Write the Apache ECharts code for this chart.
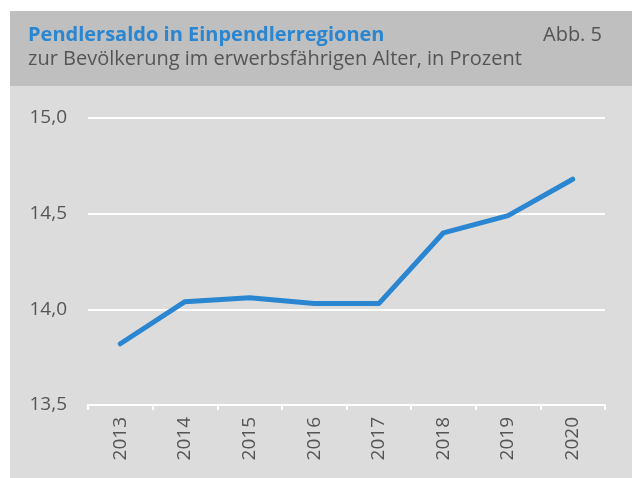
<!DOCTYPE html>
<html>
<head>
<meta charset="utf-8">
<script src="https://cdn.jsdelivr.net/npm/echarts@6/dist/echarts.min.js"></script>
<style>
html,body{margin:0;padding:0;background:#fff;}
#c{width:632px;height:478px;}
</style>
</head>
<body>
<div id="c"></div>
<script>
const years = ['2013','2014','2015','2016','2017','2018','2019','2020'];
const pendlersaldo = [13.82, 14.04, 14.06, 14.03, 14.03, 14.40, 14.49, 14.68];
const yTicks = { min: 13.5, max: 15.0, step: 0.5 };
const titleText = 'Pendlersaldo in Einpendlerregionen';
const subtitleText = 'zur Bevölkerung im erwerbsfährigen Alter, in Prozent';
const figText = 'Abb. 5';

const FONT = '"Open Sans", "Noto Sans", sans-serif';
const chart = echarts.init(document.getElementById('c'), null, {renderer: 'canvas'});
chart.setOption({
  backgroundColor: '#ffffff',
  animation: false,
  graphic: [
    {type: 'rect', shape: {x: 10, y: 11, width: 622, height: 75}, style: {fill: '#bfbfbf'}, z: -10},
    {type: 'rect', shape: {x: 10, y: 86, width: 622, height: 392}, style: {fill: '#dcdcdc'}, z: -10}
  ],
  title: [
    {text: titleText, left: 28, top: 25, padding: 0, textStyle: {fontFamily: FONT, fontSize: 20, fontWeight: 'bold', color: '#2a86d1'}},
    {text: subtitleText, left: 28, top: 49, padding: 0, textStyle: {fontFamily: FONT, fontSize: 20, fontWeight: 'normal', color: '#555555'}},
    {text: figText, right: 30, top: 25, padding: 0, textStyle: {fontFamily: FONT, fontSize: 20, fontWeight: 'normal', color: '#555555'}}
  ],
  grid: {left: 88, right: 27, top: 118, bottom: 73, containLabel: false},
  xAxis: {
    type: 'category',
    data: years,
    boundaryGap: true,
    axisLine: {show: true, lineStyle: {color: '#ffffff', width: 2}},
    axisTick: {show: true, length: 5, lineStyle: {color: '#ffffff', width: 2}},
    axisLabel: {rotate: 90, margin: 12, color: '#555555', fontFamily: FONT, fontSize: 19},
    splitLine: {show: false}
  },
  yAxis: {
    type: 'value',
    min: yTicks.min, max: yTicks.max, interval: yTicks.step,
    axisLine: {show: false},
    axisTick: {show: false},
    axisLabel: {margin: 21, color: '#555555', fontFamily: FONT, fontSize: 19,
      formatter: v => v.toFixed(1).replace('.', ',')},
    splitLine: {show: true, lineStyle: {color: '#ffffff', width: 2}}
  },
  series: [{
    type: 'line',
    data: pendlersaldo,
    symbol: 'none',
    lineStyle: {color: '#2a86d1', width: 5, cap: 'round', join: 'round'}
  }]
});
</script>
</body>
</html>
